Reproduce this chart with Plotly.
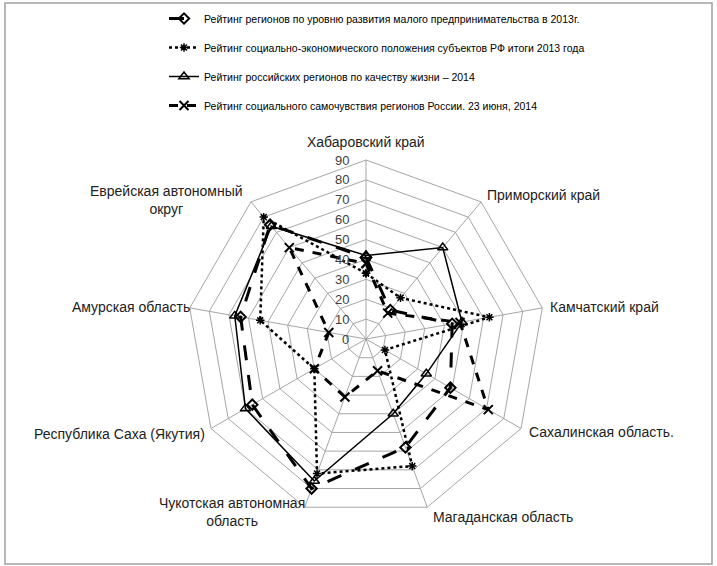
import math
import plotly.graph_objects as go

categories = ["Хабаровский край", "Приморский край", "Камчатский край",
              "Сахалинская область.", "Магаданская область",
              "Чукотская автономная<br>область", "Республика Саха (Якутия)",
              "Амурская область", "Еврейская автономный<br>округ"]

s1_name = "Рейтинг регионов по уровню развития малого предпринимательства в 2013г."
s2_name = "Рейтинг социально-экономического положения субъектов РФ итоги 2013 года"
s3_name = "Рейтинг российских регионов по качеству жизни – 2014"
s4_name = "Рейтинг социального самочувствия регионов России. 23 июня, 2014"

s1_values = [41, 19, 44, 49, 58, 80, 66, 64, 75]
s2_values = [33, 27, 63, 11, 68, 72, 30, 54, 80]
s3_values = [42, 60, 49, 35, 40, 76, 70, 67, 74]
s4_values = [38, 17, 48, 71, 17, 31, 30, 19, 60]

radial_ticks = [0, 10, 20, 30, 40, 50, 60, 70, 80, 90]
r_max = 90

W, H = 717, 566
cx, cy, R = 366, 339, 179

# label placement (pixel offsets from each outer vertex, and anchors)
label_layout = [
    (0, -8, "center", "bottom"),
    (4, -7, "left", "middle"),
    (6, -1, "left", "middle"),
    (6, 4, "left", "middle"),
    (4, 0, "left", "top"),
    (2, -14, "right", "top"),
    (-4, 5, "right", "middle"),
    (2, -1, "right", "middle"),
    (-6, -2, "right", "middle"),
]

def closed(v):
    return v + v[:1]

fig = go.Figure()
styles = [
    (s1_name, s1_values, dict(color="black", width=3, dash="longdash"), dict(symbol="diamond-open", size=8, line=dict(width=2, color="black"))),
    (s2_name, s2_values, dict(color="black", width=2.5, dash="dot"), dict(symbol="asterisk-open", size=7, line=dict(width=1.5, color="black"))),
    (s3_name, s3_values, dict(color="black", width=1.5, dash="solid"), dict(symbol="triangle-up-open", size=9, line=dict(width=1.5, color="black"))),
    (s4_name, s4_values, dict(color="black", width=3, dash="dash"), dict(symbol="x-thin-open", size=9, line=dict(width=2, color="black"))),
]
for i, (name, vals, ln, mk) in enumerate(styles):
    fig.add_trace(go.Scatterpolar(
        r=closed(vals), theta=closed(categories), name=name, mode="lines+markers",
        line=ln, marker=dict(color="black", **mk), legendgroup=f"g{i}",
    ))

annotations = []
n = len(categories)
for i, (lab, (dx, dy, xa, ya)) in enumerate(zip(categories, label_layout)):
    ang = math.radians(360 * i / n)
    px = cx + R * math.sin(ang) + dx
    py = cy - R * math.cos(ang) + dy
    annotations.append(dict(text=lab, x=px / W, y=1 - py / H, xref="paper", yref="paper",
                            xanchor=xa, yanchor=ya, showarrow=False, align="center",
                            font=dict(size=14, color="#222222", family="Liberation Sans")))

# radial tick labels, placed left of the vertical spoke
for v in radial_ticks:
    py = cy - v * R / r_max
    annotations.append(dict(text=str(v), x=(cx - 15) / W, y=1 - py / H, xref="paper", yref="paper",
                            xanchor="right", yanchor="middle", showarrow=False,
                            font=dict(size=13, color="#404040", family="Liberation Sans")))

fig.update_layout(
    width=W, height=H,
    margin=dict(l=0, r=0, t=0, b=0),
    paper_bgcolor="white",
    font=dict(family="Liberation Sans", color="black"),
    polar=dict(
        domain=dict(x=[(cx - R) / W, (cx + R) / W], y=[(H - cy - R) / H, (H - cy + R) / H]),
        bgcolor="white",
        gridshape="linear",
        angularaxis=dict(rotation=90, direction="clockwise", showline=True,
                         linecolor="#a6a6a6", linewidth=1, gridcolor="#a6a6a6",
                         showticklabels=False, ticks=""),
        radialaxis=dict(range=[0, r_max], tickvals=radial_ticks, angle=90, showline=False,
                        gridcolor="#a6a6a6", showticklabels=False, ticks=""),
    ),
    legend=dict(x=164 / W, y=1 - 4 / H, xanchor="left", yanchor="top",
                font=dict(size=10.5, family="Liberation Sans", color="black"),
                tracegroupgap=10, itemwidth=30, bgcolor="rgba(0,0,0,0)"),
    showlegend=True,
    annotations=annotations,
    shapes=[dict(type="rect", xref="paper", yref="paper",
                 x0=5 / W, x1=712 / W, y0=1 - 564 / H, y1=1 - 3 / H,
                 line=dict(color="#a0a0a0", width=1.5))],
)

fig.write_html("out.html", config={"displayModeBar": False},
               post_script="document.body.style.margin='0';")
